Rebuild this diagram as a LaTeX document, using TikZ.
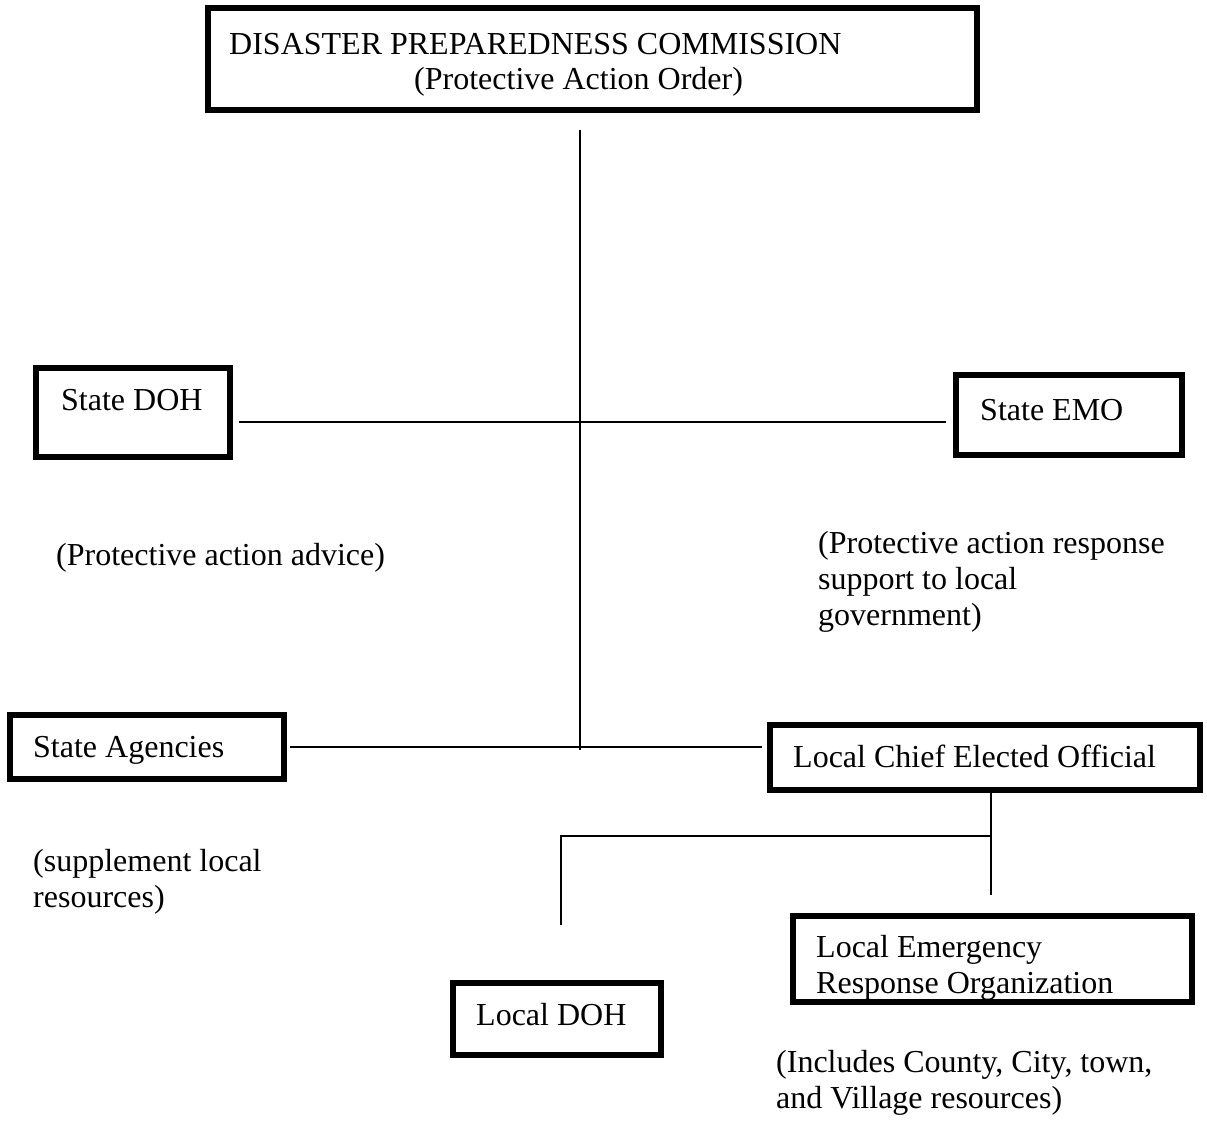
\documentclass[tikz,border=0pt]{standalone}
\usepackage{fontspec}
\setmainfont{Liberation Serif}

\tikzset{
  box/.style={draw,line width=6pt,inner sep=0pt},
  txt/.style={anchor=base west,inner sep=0pt,align=left,font=\fontsize{32}{36}\selectfont},
  link/.style={line width=1.8pt}
}

\begin{document}
\begin{tikzpicture}[x=1pt,y=-1pt]
\useasboundingbox (0,0) rectangle (1207,1120);

% texts (base = last line)
\node[txt] (dpctext) at (229,54)  {DISASTER PREPAREDNESS COMMISSION};
\node[txt] (dpcnote) at (414,89)  {(Protective Action Order)};
\node[txt] (dohtext) at (61,410)  {State DOH};
\node[txt] (emotext) at (980,420) {State EMO};
\node[txt] (dohnote) at (56,565)  {(Protective action advice)};
\node[txt] (emonote) at (818,625) {(Protective action response\\support to local\\government)};
\node[txt] (agytext) at (33,757)  {State Agencies};
\node[txt] (ceotext) at (793,767) {Local Chief Elected Official};
\node[txt] (agynote) at (33,907)  {(supplement local\\resources)};
\node[txt] (erotext) at (816,993) {Local Emergency\\Response Organization};
\node[txt] (ldohtext) at (476,1025) {Local DOH};
\node[txt] (eronote) at (776,1108) {(Includes County, City, town,\\and Village resources)};

% boxes
\node[box,minimum width=769pt,minimum height=102pt] (dpc) at (592.5,59) {};
\node[box,minimum width=194pt,minimum height=89pt] (doh) at (133,412.5) {};
\node[box,minimum width=226pt,minimum height=80pt] (emo) at (1069,415) {};
\node[box,minimum width=274pt,minimum height=64pt] (agy) at (147,747) {};
\node[box,minimum width=430pt,minimum height=65pt] (ceo) at (985,757.5) {};
\node[box,minimum width=399pt,minimum height=86pt] (ero) at (992.5,959) {};
\node[box,minimum width=208pt,minimum height=72pt] (ldoh) at (557,1019) {};

% lines
\coordinate (spinetop) at (580,130);
\coordinate (spinebot) at (580,750);
\coordinate (hub) at (580,422);
\coordinate (low) at (580,747);
\coordinate (branch) at (991,836);
\coordinate (corner) at (561,836);
\coordinate (erotop) at (991,895);
\coordinate (ldohtop) at (561,925);

\draw[link] (spinetop) -- (spinebot);
\draw[link] ([xshift=6pt]doh.east |- hub) -- ([xshift=-7pt]emo.west |- hub);
\draw[link] ([xshift=3pt]agy.east |- low) -- ([xshift=-5pt]ceo.west |- low);
\draw[link] ([yshift=3pt]ceo.south -| branch) -- (erotop);
\draw[link] (branch) -- (corner) -- (ldohtop);
\end{tikzpicture}
\end{document}
